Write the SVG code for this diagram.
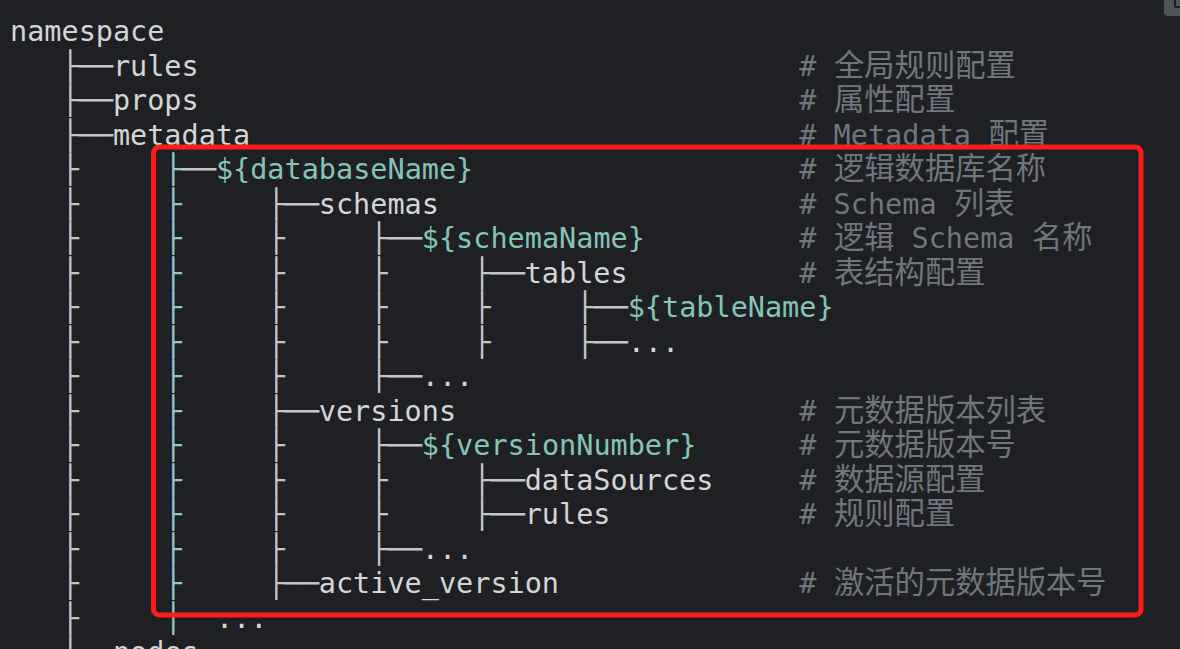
<svg xmlns="http://www.w3.org/2000/svg" width="1180" height="649" viewBox="0 0 1180 649">
<style>
text{font-family:"DejaVu Sans Mono","Noto Sans CJK SC",monospace;font-size:28.5px;white-space:pre}
.tr{fill:#c3c6c9}
.g9{fill:#8fc9d3}
.nm{fill:#d3d5d8}
.var{fill:#84c4bb}
.cm{fill:#6f767e}
.cjk{font-family:"Noto Sans CJK SC",sans-serif;font-size:30.3px;fill:#6f767e}
</style>
<rect x="0" y="0" width="1180" height="649" fill="#1f2023"/>
<g id="copy-button">
<rect x="1164" y="-6" width="22" height="22" rx="4" fill="#4e5358"/>
<rect x="1175" y="-4" width="8" height="11" rx="1" fill="none" stroke="#1f2023" stroke-width="2"/>
</g>
<g id="connectors">
<text class="tr" x="10" y="75.5" xml:space="preserve">   ├──</text>
<text class="tr" x="10" y="110" xml:space="preserve">   ├──</text>
<text class="tr" x="10" y="144.5" xml:space="preserve">   ├──</text>
<text class="tr" x="10" y="179" xml:space="preserve">   ├     <tspan class="g9">├</tspan>──</text>
<text class="tr" x="10" y="213.5" xml:space="preserve">   ├     <tspan class="g9">├</tspan>     ├──</text>
<text class="tr" x="10" y="248" xml:space="preserve">   ├     <tspan class="g9">├</tspan>     ├     ├──</text>
<text class="tr" x="10" y="282.5" xml:space="preserve">   ├     <tspan class="g9">├</tspan>     ├     ├     ├──</text>
<text class="tr" x="10" y="317" xml:space="preserve">   ├     <tspan class="g9">├</tspan>     ├     ├     ├     ├──</text>
<text class="tr" x="10" y="351.5" xml:space="preserve">   ├     <tspan class="g9">├</tspan>     ├     ├     ├     ├──</text>
<text class="tr" x="10" y="386" xml:space="preserve">   ├     <tspan class="g9">├</tspan>     ├     ├──</text>
<text class="tr" x="10" y="420.5" xml:space="preserve">   ├     <tspan class="g9">├</tspan>     ├──</text>
<text class="tr" x="10" y="455" xml:space="preserve">   ├     <tspan class="g9">├</tspan>     ├     ├──</text>
<text class="tr" x="10" y="489.5" xml:space="preserve">   ├     <tspan class="g9">├</tspan>     ├     ├     ├──</text>
<text class="tr" x="10" y="524" xml:space="preserve">   ├     <tspan class="g9">├</tspan>     ├     ├     ├──</text>
<text class="tr" x="10" y="558.5" xml:space="preserve">   ├     <tspan class="g9">├</tspan>     ├     ├──</text>
<text class="tr" x="10" y="593" xml:space="preserve">   ├     <tspan class="g9">├</tspan>     ├──</text>
<text class="tr" x="10" y="627.5" xml:space="preserve">   ├     <tspan class="g9">│</tspan></text>
<text class="tr" x="10" y="662" xml:space="preserve">   ├──</text>
</g>
<g id="node-namespace"><text class="nm" x="10" y="41">namespace</text></g>
<g id="node-rules"><text class="nm" x="112.9" y="75.5">rules</text><text class="cm" x="799.3" y="75.5">#</text><text class="cjk" x="834" y="75.5">全局规则配置</text></g>
<g id="node-props"><text class="nm" x="112.9" y="110">props</text><text class="cm" x="799.3" y="110">#</text><text class="cjk" x="834" y="110">属性配置</text></g>
<g id="node-metadata"><text class="nm" x="112.9" y="144.5">metadata</text><text class="cm" x="799.3" y="144.5">#</text><text class="cm" x="833.6" y="144.5">Metadata</text><text class="cjk" x="988.5" y="144.5">配置</text></g>
<g id="node-databaseName"><text class="var" x="215.9" y="179">${databaseName}</text><text class="cm" x="799.3" y="179">#</text><text class="cjk" x="834" y="179">逻辑数据库名称</text></g>
<g id="node-schemas"><text class="nm" x="318.8" y="213.5">schemas</text><text class="cm" x="799.3" y="213.5">#</text><text class="cm" x="833.6" y="213.5">Schema</text><text class="cjk" x="954" y="213.5">列表</text></g>
<g id="node-schemaName"><text class="var" x="421.8" y="248">${schemaName}</text><text class="cm" x="799.3" y="248">#</text><text class="cjk" x="834" y="248">逻辑</text><text class="cm" x="911.5" y="248">Schema</text><text class="cjk" x="1032" y="248">名称</text></g>
<g id="node-tables"><text class="nm" x="524.7" y="282.5">tables</text><text class="cm" x="799.3" y="282.5">#</text><text class="cjk" x="834" y="282.5">表结构配置</text></g>
<g id="node-tableName"><text class="var" x="627.7" y="317">${tableName}</text></g>
<g id="node-tables-more"><text class="nm" x="627.7" y="351.5">...</text></g>
<g id="node-schemas-more"><text class="nm" x="421.8" y="386">...</text></g>
<g id="node-versions"><text class="nm" x="318.8" y="420.5">versions</text><text class="cm" x="799.3" y="420.5">#</text><text class="cjk" x="834" y="420.5">元数据版本列表</text></g>
<g id="node-versionNumber"><text class="var" x="421.8" y="455">${versionNumber}</text><text class="cm" x="799.3" y="455">#</text><text class="cjk" x="834" y="455">元数据版本号</text></g>
<g id="node-dataSources"><text class="nm" x="524.7" y="489.5">dataSources</text><text class="cm" x="799.3" y="489.5">#</text><text class="cjk" x="834" y="489.5">数据源配置</text></g>
<g id="node-version-rules"><text class="nm" x="524.7" y="524">rules</text><text class="cm" x="799.3" y="524">#</text><text class="cjk" x="834" y="524">规则配置</text></g>
<g id="node-versions-more"><text class="nm" x="421.8" y="558.5">...</text></g>
<g id="node-active_version"><text class="nm" x="318.8" y="593">active_version</text><text class="cm" x="799.3" y="593">#</text><text class="cjk" x="834" y="593">激活的元数据版本号</text></g>
<g id="node-database-more"><text class="nm" x="215.9" y="627.5">...</text></g>
<g id="node-nodes"><text class="nm" x="112.9" y="662">nodes</text></g>
<g id="highlight">
<rect x="153.5" y="147" width="987.5" height="468" rx="6" fill="none" stroke="#fe1d16" stroke-width="5"/>
</g>
</svg>
